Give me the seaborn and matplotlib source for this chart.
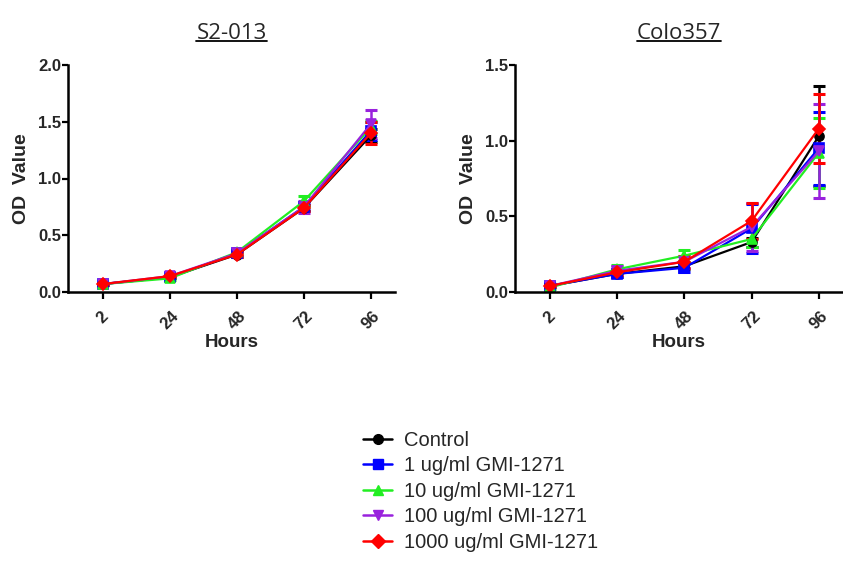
import numpy as np
import pandas as pd
import matplotlib
matplotlib.use("Agg")
import matplotlib.pyplot as plt
from matplotlib.lines import Line2D
from matplotlib.transforms import ScaledTranslation
import seaborn as sns

hours = ["2", "24", "48", "72", "96"]
groups = ["Control", "1 ug/ml GMI-1271", "10 ug/ml GMI-1271",
          "100 ug/ml GMI-1271", "1000 ug/ml GMI-1271"]
colors = ["#000000", "#0000FF", "#22EE22", "#9922DD", "#FF0000"]
markers = ["o", "s", "^", "v", "D"]

# S2-013 means and SD
s2_control = [0.07, 0.13, 0.33, 0.74, 1.38]
s2_1 = [0.07, 0.13, 0.34, 0.75, 1.42]
s2_10 = [0.07, 0.12, 0.35, 0.80, 1.45]
s2_100 = [0.07, 0.14, 0.34, 0.75, 1.48]
s2_1000 = [0.07, 0.14, 0.33, 0.74, 1.40]
s2_sd_control = [0.01, 0.01, 0.02, 0.03, 0.06]
s2_sd_1 = [0.01, 0.01, 0.02, 0.03, 0.08]
s2_sd_10 = [0.01, 0.01, 0.02, 0.05, 0.06]
s2_sd_100 = [0.01, 0.01, 0.02, 0.05, 0.12]
s2_sd_1000 = [0.01, 0.01, 0.02, 0.03, 0.10]

# Colo357 means and SD
co_control = [0.04, 0.12, 0.17, 0.33, 1.03]
co_1 = [0.04, 0.12, 0.16, 0.42, 0.95]
co_10 = [0.03, 0.15, 0.24, 0.35, 0.92]
co_100 = [0.04, 0.14, 0.20, 0.43, 0.93]
co_1000 = [0.04, 0.13, 0.20, 0.47, 1.08]
co_sd_control = [0.01, 0.02, 0.02, 0.03, 0.33]
co_sd_1 = [0.01, 0.02, 0.03, 0.16, 0.24]
co_sd_10 = [0.01, 0.03, 0.04, 0.05, 0.23]
co_sd_100 = [0.01, 0.03, 0.04, 0.16, 0.31]
co_sd_1000 = [0.01, 0.02, 0.04, 0.12, 0.23]

s2_means = [s2_control, s2_1, s2_10, s2_100, s2_1000]
s2_sds = [s2_sd_control, s2_sd_1, s2_sd_10, s2_sd_100, s2_sd_1000]
co_means = [co_control, co_1, co_10, co_100, co_1000]
co_sds = [co_sd_control, co_sd_1, co_sd_10, co_sd_100, co_sd_1000]

sns.set_style("white")
plt.rcParams['font.family'] = ['Liberation Sans', 'DejaVu Sans']

W, H = 843, 585
fig = plt.figure(figsize=(W / 100, H / 100), dpi=100)

def px_axes(l, r, t, b):
    return fig.add_axes([l / W, 1 - b / H, (r - l) / W, (b - t) / H])

ax1 = px_axes(68, 395, 65, 292)
ax2 = px_axes(515, 843, 65, 292)

def draw(ax, means, sds, title, ymax, yticks):
    rows = []
    for g, m in zip(groups, means):
        for h, v in zip(hours, m):
            rows.append({"Hours": h, "OD": v, "Group": g})
    df = pd.DataFrame(rows)
    sns.pointplot(data=df, x="Hours", y="OD", hue="Group", order=hours,
                  hue_order=groups, palette=colors, markers=markers,
                  linestyles="-", errorbar=None, ax=ax, legend=False,
                  markersize=6.5, linewidth=1.6)
    for i, (m, s) in enumerate(zip(means, sds)):
        ax.errorbar(np.arange(len(hours)), m, yerr=s, fmt="none",
                    ecolor=colors[i], elinewidth=1.8, capsize=4,
                    capthick=2.2, zorder=1.5 + i * 0.1)
    ax.set_xlim(-0.52, 4.36)
    ax.set_ylim(0, ymax)
    ax.set_yticks(yticks)
    ax.set_yticklabels([f"{v:.1f}" for v in yticks], fontsize=12,
                       fontweight="bold")
    ax.set_xticks(range(len(hours)))
    ax.set_xticklabels(hours, rotation=45, fontsize=12, fontweight="bold",
                       ha="center", va="top")
    off = ScaledTranslation(-5 / 100, 0, fig.dpi_scale_trans)
    for lab in ax.get_xticklabels():
        lab.set_transform(lab.get_transform() + off)
    ax.set_xlabel("Hours", fontsize=13.5, fontweight="bold", labelpad=1)
    ax.set_ylabel("OD  Value", fontsize=14, fontweight="bold", labelpad=6)
    for sp in ["top", "right"]:
        ax.spines[sp].set_visible(False)
    for sp in ["left", "bottom"]:
        ax.spines[sp].set_linewidth(1.8)
        ax.spines[sp].set_color("black")
    ax.tick_params(axis="y", which="major", direction="out", length=4,
                   width=1.6, color="black", left=True, pad=1)
    ax.tick_params(axis="x", which="major", direction="out", length=5,
                   width=1.6, color="black", bottom=True, pad=7)
    t = ax.set_title(title, fontsize=16, family="Open Sans", pad=19)
    return t

t1 = draw(ax1, s2_means, s2_sds, "S2-013", 2.0, [0.0, 0.5, 1.0, 1.5, 2.0])
t2 = draw(ax2, co_means, co_sds, "Colo357", 1.5, [0.0, 0.5, 1.0, 1.5])

fig.canvas.draw()
renderer = fig.canvas.get_renderer()
for t in (t1, t2):
    bb = t.get_window_extent(renderer)
    y = bb.y0 + 3
    fig.add_artist(Line2D([bb.x0 / W, bb.x1 / W], [y / H, y / H],
                          transform=fig.transFigure, color="black", lw=1.3))

handles = [Line2D([0], [0], color=c, marker=mk, lw=1.8, markersize=7)
           for c, mk in zip(colors, markers)]
fig.legend(handles, groups, loc="upper left",
           bbox_to_anchor=(363 / W, 1 - 431 / H), frameon=False,
           fontsize=14.5, handlelength=1.45, handletextpad=0.6,
           labelspacing=0.32, borderpad=0, borderaxespad=0)

fig.savefig("out.png", dpi=100)
